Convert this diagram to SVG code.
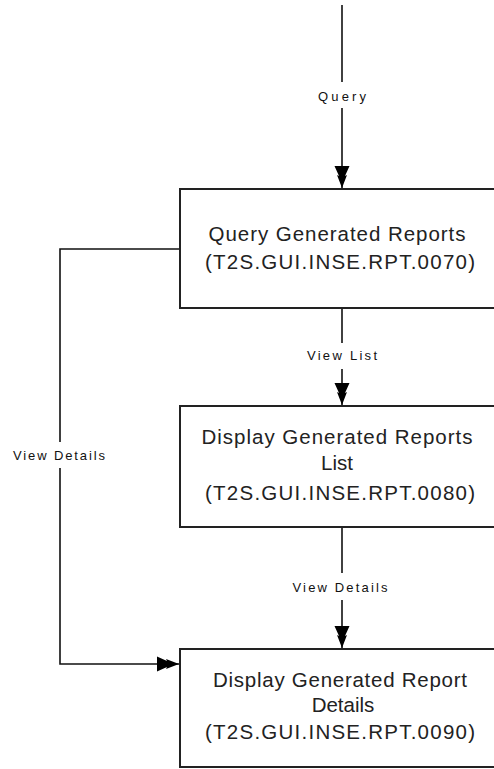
<svg xmlns="http://www.w3.org/2000/svg" width="494" height="769" viewBox="0 0 494 769">
<style>
.box{fill:#fff;stroke:#222;stroke-width:2}
.ln{fill:none;stroke:#111;stroke-width:1.6}
.t{font-family:"Liberation Sans",Arial,sans-serif;font-size:20.5px;fill:#222;text-anchor:middle}
.lb{font-family:"Liberation Sans",Arial,sans-serif;font-size:13px;fill:#111;text-anchor:middle;dominant-baseline:central}
</style>
<defs>
<marker id="ah" markerUnits="userSpaceOnUse" markerWidth="30" markerHeight="20" refX="0" refY="0" viewBox="-24 -10 26 20" orient="auto" overflow="visible">
<polygon points="0,0 -13,-5 -12,-3 -22,-7.5 -22,7.5 -12,3 -13,5" fill="#000"/>
</marker>
</defs>
<rect width="494" height="769" fill="#fff"/>
<g id="connectors">
<line class="ln" x1="342" y1="5" x2="342" y2="82"/>
<line class="ln" x1="342" y1="108" x2="342" y2="188" marker-end="url(#ah)"/>
<text class="lb" x="342" y="96" textLength="48" lengthAdjust="spacing">Query</text>
<line class="ln" x1="342" y1="308" x2="342" y2="343"/>
<line class="ln" x1="342" y1="369" x2="342" y2="405" marker-end="url(#ah)"/>
<text class="lb" x="342" y="355" textLength="70" lengthAdjust="spacing">View List</text>
<line class="ln" x1="342" y1="527" x2="342" y2="573"/>
<line class="ln" x1="342" y1="600" x2="342" y2="648" marker-end="url(#ah)"/>
<text class="lb" x="340" y="587" textLength="95" lengthAdjust="spacing">View Details</text>
<polyline class="ln" points="180,249 60,249 60,442"/>
<polyline class="ln" points="60,468 60,664 179,664" marker-end="url(#ah)"/>
<text class="lb" x="59" y="455" textLength="92" lengthAdjust="spacing">View Details</text>
</g>
<g id="node1">
<rect class="box" x="180" y="189" width="330" height="119"/>
<text class="t" x="337" y="241" textLength="257" lengthAdjust="spacing">Query Generated Reports</text>
<text class="t" x="340" y="269" textLength="270" lengthAdjust="spacing">(T2S.GUI.INSE.RPT.0070)</text>
</g>
<g id="node2">
<rect class="box" x="180" y="406" width="330" height="121"/>
<text class="t" x="337" y="444" textLength="271" lengthAdjust="spacing">Display Generated Reports</text>
<text class="t" x="337" y="470">List</text>
<text class="t" x="340" y="500" textLength="270" lengthAdjust="spacing">(T2S.GUI.INSE.RPT.0080)</text>
</g>
<g id="node3">
<rect class="box" x="180" y="649" width="330" height="118"/>
<text class="t" x="340" y="687" textLength="254" lengthAdjust="spacing">Display Generated Report</text>
<text class="t" x="343" y="712">Details</text>
<text class="t" x="340" y="739" textLength="270" lengthAdjust="spacing">(T2S.GUI.INSE.RPT.0090)</text>
</g>
</svg>
